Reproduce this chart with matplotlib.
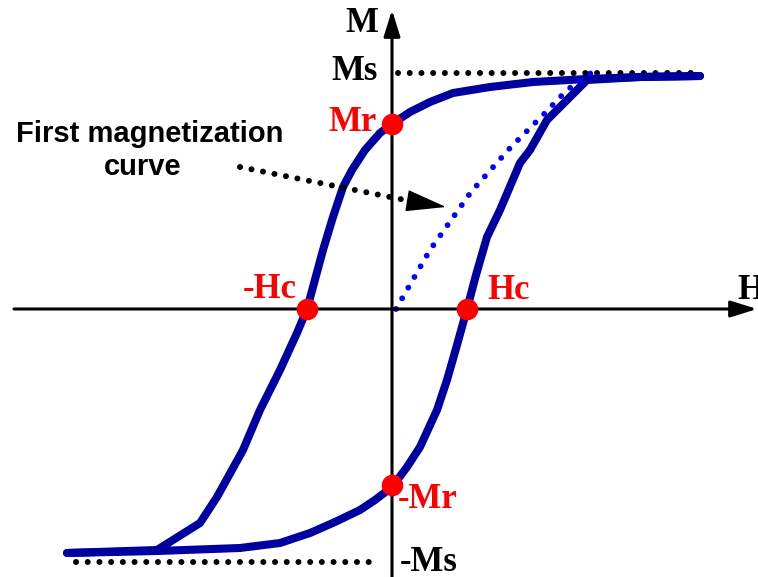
import matplotlib.pyplot as plt

# hysteresis loop (H, M in arbitrary units)
h_down = [3.08, 2.48, 1.95, 1.41, 0.98, 0.61, 0.38, 0.18, 0.0, -0.12, -0.27, -0.40, -0.49,
          -0.59, -0.69, -0.79, -0.85, -0.95, -1.12, -1.32, -1.49, -1.75, -1.92, -2.35, -3.25]
m_down = [2.33, 2.32, 2.30, 2.27, 2.22, 2.16, 2.07, 1.97, 1.85, 1.76, 1.59, 1.39, 1.22,
          0.92, 0.59, 0.22, 0.0, -0.24, -0.61, -1.01, -1.41, -1.88, -2.14, -2.41, -2.44]

h_up = [-3.25, -2.35, -1.52, -1.12, -0.82, -0.57, -0.32, -0.17, 0.0, 0.15, 0.28, 0.45, 0.55,
        0.65, 0.75, 0.84, 0.95, 1.08, 1.28, 1.38, 1.55, 1.95, 2.48, 3.08]
m_up = [-2.44, -2.42, -2.39, -2.34, -2.24, -2.13, -2.01, -1.91, -1.78, -1.58, -1.38, -1.01, -0.71,
        -0.36, 0.0, 0.34, 0.72, 0.99, 1.46, 1.59, 1.89, 2.29, 2.32, 2.33]

# first magnetization curve
h_first = [0.04, 0.38, 0.79, 1.18, 1.52, 1.75, 1.99]
m_first = [0.0, 0.59, 1.17, 1.61, 1.95, 2.19, 2.36]

Ms, Ms_neg = 2.36, -2.53
Mr, Mr_neg = 1.85, -1.76
Hc, Hc_neg = 0.75, -0.85

fig = plt.figure(figsize=(7.58, 5.77), dpi=100)
ax = fig.add_axes([0, 0, 1, 1])
ax.set_xlim(-3.92, 3.66)
ax.set_ylim(-2.68, 3.09)
ax.axis('off')

# axes with arrows
ax.annotate('', xy=(3.65, 0), xytext=(-3.78, 0),
            arrowprops=dict(arrowstyle='-|>,head_length=1.6,head_width=0.5', mutation_scale=10,
                            color='black', lw=2.2, shrinkA=0, shrinkB=0))
ax.annotate('', xy=(0, 2.99), xytext=(0, -2.70),
            arrowprops=dict(arrowstyle='-|>,head_length=1.6,head_width=0.5', mutation_scale=10,
                            color='black', lw=2.2, shrinkA=0, shrinkB=0))

# saturation lines
dots = (0, (0.01, 1.95))
ax.plot([0.06, 3.01], [Ms, Ms], color='black', lw=4.3, ls=dots, dash_capstyle='round')
ax.plot([-3.16, -0.12], [Ms_neg, Ms_neg], color='black', lw=4.3, ls=dots, dash_capstyle='round')

# loop
blue = '#0000a0'
ax.plot(h_down, m_down, color=blue, lw=5.8, solid_capstyle='round', solid_joinstyle='round')
ax.plot(h_up, m_up, color=blue, lw=5.8, solid_capstyle='round', solid_joinstyle='round')
ax.plot(h_first, m_first, color='#0000ff', lw=4.2, ls=(0, (0.01, 2.1)), dash_capstyle='round')

# annotation arrow
ax.plot([-1.52, 0.13], [1.42, 1.09], color='black', lw=4.3, ls=dots, dash_capstyle='round')
ax.annotate('', xy=(0.54, 1.02), xytext=(0.17, 1.08),
            arrowprops=dict(arrowstyle='-|>,head_length=2.6,head_width=0.7', mutation_scale=10,
                            color='black', lw=1, shrinkA=0, shrinkB=0))

# special points
ax.plot([0, Hc_neg, Hc, 0], [Mr, 0, 0, Mr_neg], 'o', color='red', ms=14.5, zorder=5)

serif = dict(family='Liberation Serif', weight='bold', fontsize=25, va='baseline')
ax.text(-0.14, 2.77, 'M', ha='right', color='black', **serif)
ax.text(-0.14, 2.29, 'Ms', ha='right', color='black', **serif)
ax.text(-0.15, 1.78, 'Mr', ha='right', color='red', **serif)
ax.text(-1.22, 0.11, '-Hc', ha='center', color='red', **serif)
ax.text(0.95, 0.10, 'Hc', ha='left', color='red', **serif)
ax.text(3.45, 0.10, 'H', ha='left', color='black', **serif)
ax.text(0.06, -1.99, '-Mr', ha='left', color='red', **serif)
ax.text(0.08, -2.62, '-Ms', ha='left', color='black', **serif)

sans = dict(family='Liberation Sans', weight='bold', fontsize=21, va='baseline', ha='center')
ax.text(-2.42, 1.67, 'First magnetization', **sans)
ax.text(-2.49, 1.34, 'curve', **sans)

fig.savefig('out.png', dpi=100)
